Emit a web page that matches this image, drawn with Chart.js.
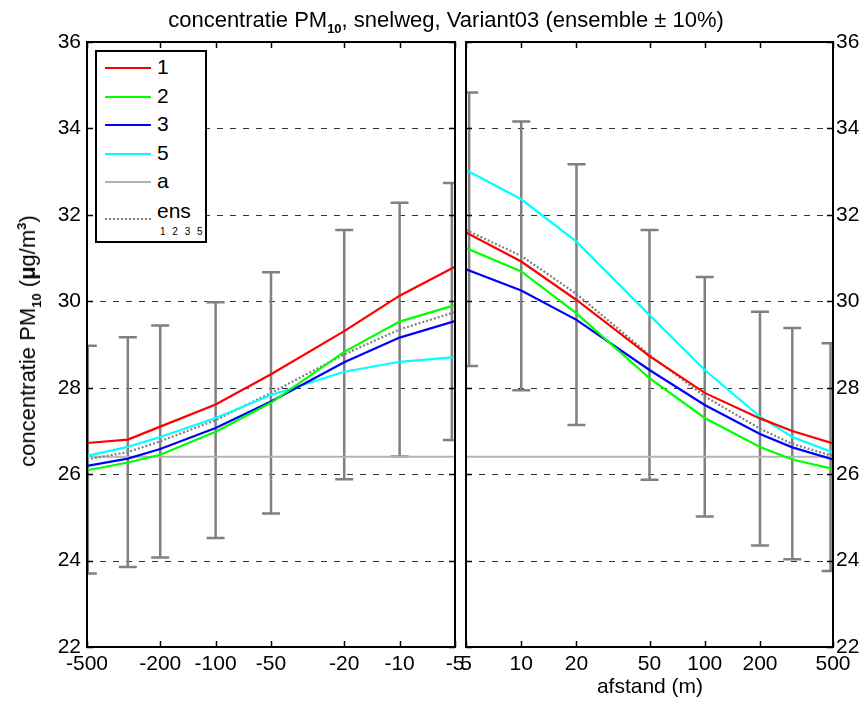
<!DOCTYPE html>
<html>
<head>
<meta charset="utf-8">
<script src="https://cdn.jsdelivr.net/npm/chart.js@4/dist/chart.umd.min.js"></script>
<style>
body { margin: 0; background: #fff; width: 865px; height: 702px; position: relative; overflow: hidden; font-family: Arial, "Liberation Sans", sans-serif; }
canvas { position: absolute; left: 0; top: 0; }
.title { position: absolute; left: 0; width: 892px; top: 7px; text-align: center; font-size: 22px; white-space: nowrap; }
.ylab { position: absolute; left: 29px; top: 341px; transform: translate(-50%, -50%) rotate(-90deg); font-size: 22px; white-space: nowrap; }
.xlab { position: absolute; left: 650px; top: 674px; transform: translateX(-50%); font-size: 21px; white-space: nowrap; }
sub, sup { font-size: 13px; font-weight: bold; }
sub { vertical-align: -6px; }
sup { vertical-align: 9px; }
#legend { position: absolute; left: 95px; top: 50px; width: 108px; height: 189px; background: #fff; border: 2px solid #000; }
#legend .row { position: absolute; left: 8px; height: 20px; }
#legend .sw { position: absolute; left: 0; top: 9px; width: 46px; height: 0; border-top: 2px solid; }
#legend .lb { position: absolute; left: 52px; top: -3px; font-size: 21px; }
#legend .small { position: absolute; left: 63px; top: 174px; font-size: 10px; letter-spacing: 2px; }
</style>
</head>
<body>
<canvas id="links" width="865" height="702"></canvas>
<canvas id="rechts" width="865" height="702"></canvas>
<div class="title">concentratie PM<sub>10</sub>, snelweg, Variant03 (ensemble &plusmn; 10%)</div>
<div class="ylab">concentratie PM<sub>10</sub> (<b>&mu;</b>g/m<sup>3</sup>)</div>
<div class="xlab">afstand (m)</div>
<div id="legend"></div>
<script>
// afstand tot de weg (m)
const distLeft = [-500, -300, -200, -100, -50, -20, -10, -5];
const distRight = [5, 10, 20, 50, 100, 200, 300, 500];

// concentraties per variant, links en rechts van de weg
const v1Left = [26.72, 26.80, 27.10, 27.61, 28.31, 29.31, 30.13, 30.80];
const v2Left = [26.09, 26.27, 26.45, 26.98, 27.65, 28.83, 29.53, 29.91];
const v3Left = [26.19, 26.36, 26.58, 27.07, 27.68, 28.59, 29.16, 29.54];
const v5Left = [26.42, 26.63, 26.86, 27.30, 27.83, 28.37, 28.60, 28.71];
const ensLeft = [26.34, 26.51, 26.76, 27.25, 27.88, 28.77, 29.35, 29.75];

const v1Right = [31.59, 30.92, 30.03, 28.73, 27.88, 27.29, 27.00, 26.71];
const v2Right = [31.23, 30.69, 29.72, 28.22, 27.30, 26.63, 26.34, 26.12];
const v3Right = [30.74, 30.25, 29.57, 28.41, 27.60, 26.93, 26.62, 26.34];
const v5Right = [33.04, 32.36, 31.38, 29.68, 28.41, 27.33, 26.86, 26.50];
const ensRight = [31.65, 31.05, 30.17, 28.76, 27.80, 27.05, 26.70, 26.42];

// achtergrondconcentratie
const achtergrond = 26.4;

// foutbalken (ensemble +/- 10%)
const barXLeft = [-495, -300, -200, -100, -50, -20, -10, -5.2];
const barLoLeft = [23.70, 23.85, 24.07, 24.52, 25.09, 25.88, 26.41, 26.79];
const barHiLeft = [28.97, 29.17, 29.44, 29.98, 30.67, 31.65, 32.28, 32.74];
const barXRight = [5.2, 10, 20, 50, 100, 200, 300, 485];
const barLoRight = [28.50, 27.94, 27.14, 25.87, 25.02, 24.35, 24.03, 23.76];
const barHiRight = [34.83, 34.16, 33.17, 31.65, 30.56, 29.76, 29.38, 29.03];

const tickLeft = [-500, -200, -100, -50, -20, -10, -5];
const tickRight = [5, 10, 20, 50, 100, 200, 500];
const yTicks = [22, 24, 26, 28, 30, 32, 34, 36];

const series = [
    { label: '1', color: '#ff0000' },
    { label: '2', color: '#00ff00' },
    { label: '3', color: '#0000ff' },
    { label: '5', color: '#00ffff' },
    { label: 'a', color: '#b4b4b4' },
    { label: 'ens', color: '#808080', dash: [2, 2] }
];

Chart.defaults.font.family = 'Arial, "Liberation Sans", sans-serif';
Chart.defaults.font.size = 21;
Chart.defaults.color = '#000';

const framePlugin = {
    id: 'frame',
    beforeDatasetsDraw(chart) {
        const ctx = chart.ctx;
        const a = chart.chartArea;
        const ys = chart.scales.y, xs = chart.scales.x;
        ctx.save();
        ctx.strokeStyle = '#333';
        ctx.lineWidth = 1;
        ctx.setLineDash([6, 7]);
        yTicks.slice(1, -1).forEach(v => {
            const py = Math.round(ys.getPixelForValue(v)) + 0.5;
            ctx.beginPath();
            ctx.moveTo(a.left, py);
            ctx.lineTo(a.right, py);
            ctx.stroke();
        });
        ctx.setLineDash([]);
        // foutbalken
        const bars = chart.options.plugins.frame;
        ctx.beginPath();
        ctx.rect(a.left, a.top, a.right - a.left, a.bottom - a.top);
        ctx.clip();
        ctx.strokeStyle = '#808080';
        ctx.lineWidth = 2.5;
        bars.x.forEach((d, i) => {
            const px = xs.getPixelForValue(Math.abs(d));
            const lo = ys.getPixelForValue(bars.lo[i]);
            const hi = ys.getPixelForValue(bars.hi[i]);
            ctx.beginPath();
            ctx.moveTo(px, lo); ctx.lineTo(px, hi);
            ctx.moveTo(px - 9, lo); ctx.lineTo(px + 9, lo);
            ctx.moveTo(px - 9, hi); ctx.lineTo(px + 9, hi);
            ctx.stroke();
        });
        ctx.restore();
    },
    afterDatasetsDraw(chart) {
        const ctx = chart.ctx;
        const a = chart.chartArea;
        const ys = chart.scales.y, xs = chart.scales.x;
        const bars = chart.options.plugins.frame;
        ctx.save();
        ctx.strokeStyle = '#000';
        ctx.lineWidth = 1.5;
        ctx.beginPath();
        bars.ticks.forEach(v => {
            const px = Math.round(xs.getPixelForValue(Math.abs(v))) + 0.5;
            ctx.moveTo(px, a.bottom); ctx.lineTo(px, a.bottom - 6);
            ctx.moveTo(px, a.top); ctx.lineTo(px, a.top + 6);
        });
        yTicks.forEach(v => {
            const py = Math.round(ys.getPixelForValue(v)) + 0.5;
            ctx.moveTo(a.left, py); ctx.lineTo(a.left + 6, py);
            ctx.moveTo(a.right, py); ctx.lineTo(a.right - 6, py);
        });
        ctx.stroke();
        ctx.lineWidth = 2;
        ctx.strokeRect(a.left, a.top, a.right - a.left, a.bottom - a.top);
        ctx.restore();
    }
};

function makePanel(id, side, dist, vals, bars, ticks) {
    const datasets = series.map((s, i) => {
        let data;
        if (s.label === 'a') {
            data = [dist[0], dist[dist.length - 1]].map(d => ({ x: Math.abs(d), y: achtergrond }));
        } else {
            data = dist.map((d, j) => ({ x: Math.abs(d), y: vals[i][j] }));
        }
        return {
            label: s.label,
            data: data,
            borderColor: s.color,
            borderWidth: s.label === 'a' ? 2 : 2.2,
            borderDash: s.dash || [],
            pointRadius: 0,
            fill: false,
            tension: 0
        };
    });
    // 'a' onder de varianten tekenen
    datasets[4].order = 1;

    return new Chart(document.getElementById(id), {
        type: 'line',
        data: { datasets: datasets },
        options: {
            responsive: false,
            animation: false,
            layout: {
                padding: side === 'left'
                    ? { left: 0, right: 410, top: 42, bottom: 0 }
                    : { left: 466, right: 0, top: 42, bottom: 0 }
            },
            plugins: {
                legend: { display: false },
                tooltip: { enabled: false },
                frame: { x: bars.x, lo: bars.lo, hi: bars.hi, ticks: ticks }
            },
            scales: {
                x: {
                    type: 'logarithmic',
                    min: 5,
                    max: 500,
                    reverse: side === 'left',
                    afterBuildTicks: s => { s.ticks = ticks.map(v => ({ value: Math.abs(v) })); },
                    afterFit: s => {
                        s.height = 55;
                        s.paddingLeft = 0; s.paddingRight = 0;
                    },
                    ticks: {
                        autoSkip: false,
                        maxRotation: 0,
                        padding: 5,
                        callback: v => side === 'left' ? '-' + v : '' + v
                    },
                    grid: { display: false, drawTicks: false },
                    border: { display: false }
                },
                y: {
                    type: 'linear',
                    position: side === 'left' ? 'left' : 'right',
                    min: 22,
                    max: 36,
                    afterBuildTicks: s => { s.ticks = yTicks.map(v => ({ value: v })); },
                    afterFit: s => {
                        s.width = side === 'left' ? 87 : 32;
                        s.paddingTop = 0; s.paddingBottom = 0;
                    },
                    ticks: { padding: side === 'left' ? 6 : 3 },
                    grid: { display: false, drawTicks: false },
                    border: { display: false }
                }
            }
        },
        plugins: [framePlugin]
    });
}

makePanel('links', 'left', distLeft, [v1Left, v2Left, v3Left, v5Left, null, ensLeft],
    { x: barXLeft, lo: barLoLeft, hi: barHiLeft }, tickLeft);
makePanel('rechts', 'right', distRight, [v1Right, v2Right, v3Right, v5Right, null, ensRight],
    { x: barXRight, lo: barLoRight, hi: barHiRight }, tickRight);

// legenda
const legend = document.getElementById('legend');
const rowTops = [6, 35, 63, 92, 120, 157];
series.forEach((s, i) => {
    const row = document.createElement('div');
    row.className = 'row';
    row.style.top = rowTops[i] + 'px';
    const sw = document.createElement('div');
    sw.className = 'sw';
    sw.style.borderTopColor = s.color;
    if (s.dash) sw.style.borderTopStyle = 'dotted';
    const lb = document.createElement('div');
    lb.className = 'lb';
    if (s.dash) lb.style.top = '-10px';
    lb.textContent = s.label;
    row.appendChild(sw);
    row.appendChild(lb);
    legend.appendChild(row);
});
const small = document.createElement('div');
small.className = 'small';
small.textContent = '1 2 3 5';
legend.appendChild(small);
</script>
</body>
</html>
